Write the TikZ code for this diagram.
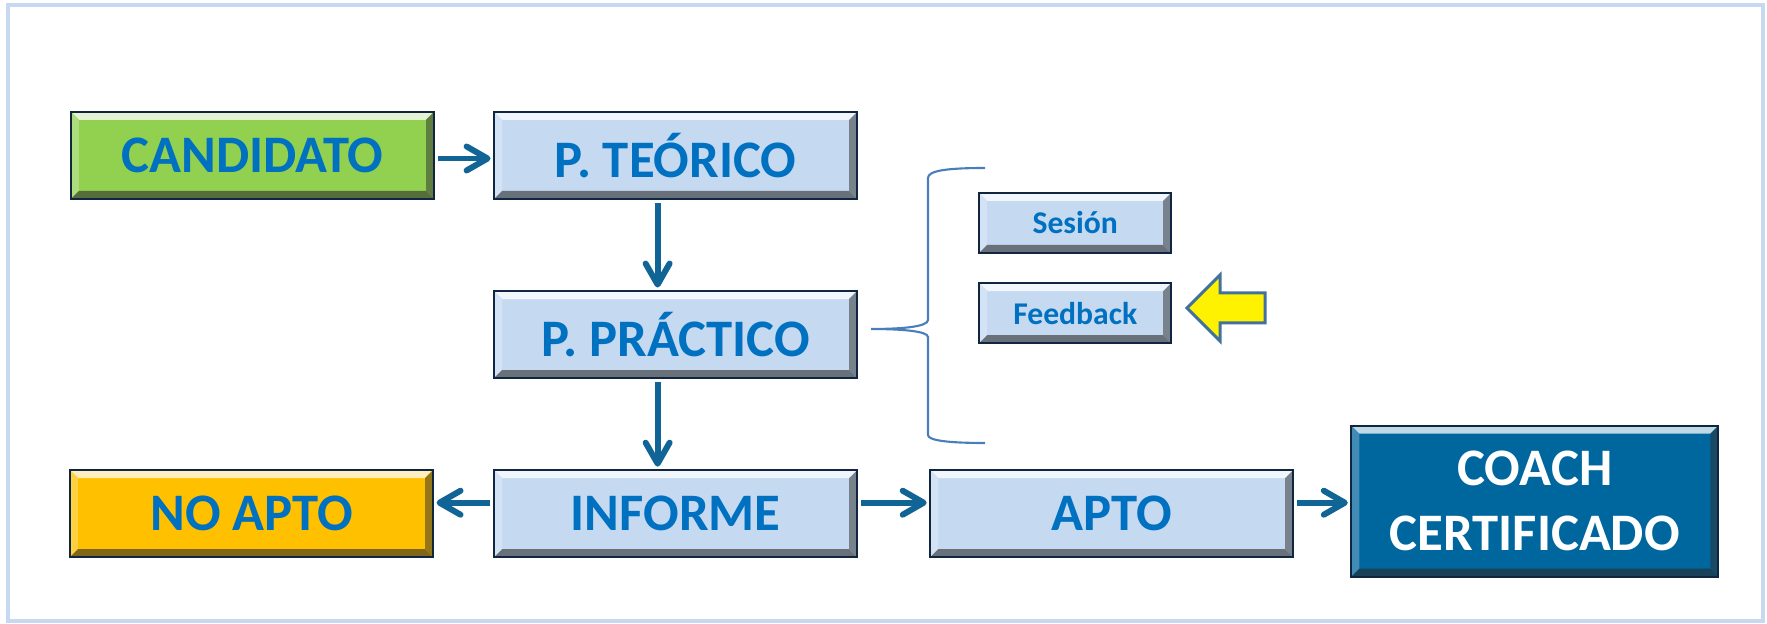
\documentclass[tikz,border=0pt]{standalone}
\usepackage{fontspec}
\setmainfont{Carlito}
\usetikzlibrary{arrows.meta,positioning}
\definecolor{mypanel}{RGB}{198,217,241}
\definecolor{mylight}{RGB}{197,217,241}
\definecolor{mygreen}{RGB}{146,208,80}
\definecolor{mygold}{RGB}{255,192,0}
\definecolor{mydark}{RGB}{0,102,158}
\definecolor{mytext}{RGB}{0,112,192}
\definecolor{myline}{RGB}{16,100,150}
\definecolor{myedge}{RGB}{16,37,63}
\definecolor{mybrace}{RGB}{74,126,187}
\definecolor{myarrow}{RGB}{65,113,156}
\tikzset{
  bevel/.style={path picture={
    \coordinate (bnw) at (path picture bounding box.north west);
    \coordinate (bne) at (path picture bounding box.north east);
    \coordinate (bsw) at (path picture bounding box.south west);
    \coordinate (bse) at (path picture bounding box.south east);
    \fill[#1!25!white] (bnw) -- (bne) -- ([shift={(-0.8mm,-0.8mm)}]bne) -- ([shift={(0.8mm,-0.8mm)}]bnw) -- cycle;
    \fill[#1!75!white] (bnw) -- ([shift={(0.8mm,-0.8mm)}]bnw) -- ([shift={(0.8mm,0.8mm)}]bsw) -- (bsw) -- cycle;
    \fill[#1!60!black!80!gray] (bne) -- ([shift={(-0.8mm,-0.8mm)}]bne) -- ([shift={(-0.8mm,0.8mm)}]bse) -- (bse) -- cycle;
    \fill[#1!50!black!80!gray] (bsw) -- ([shift={(0.8mm,0.8mm)}]bsw) -- ([shift={(-0.8mm,0.8mm)}]bse) -- (bse) -- cycle;
  }},
  frame/.style={rectangle, draw=myedge, line width=0.6pt, fill=#1, bevel=#1, minimum width=36.3mm, minimum height=8.7mm, inner sep=0pt, text=mytext, font=\fontsize{15}{18.5}\selectfont\bfseries, align=center},
  frame/.default=mylight,
  small/.style={frame=mylight, minimum width=19.2mm, minimum height=6.0mm, font=\fontsize{9}{11}\selectfont\bfseries},
  link/.style={draw=myline, line width=1.7pt, -{Straight Barb[length=2.1mm,width=2.4mm,round]}, shorten >=0.25mm, shorten <=0.3mm},
  panel/.style={draw=mypanel, line width=0.4mm},
  brace/.style={draw=mybrace, line width=0.6pt},
  hint/.style={draw=myarrow, fill=yellow, line width=0.85pt, line join=miter}
}

\begin{document}
\begin{tikzpicture}[x=1mm,y=1mm]

\useasboundingbox (0,0) rectangle (176.7,62.4);
\draw [panel] (0.8,0.3) rectangle (176.3,61.9);

% boxes
\node [frame=mygreen] (candidato) at (25.25,46.85) {CANDIDATO};
\node [frame, right=5.8mm of candidato] (teorico) {P. TEÓRICO};
\node [frame, below=9.0mm of teorico] (practico) {P. PRÁCTICO};
\node [frame, below=9.0mm of practico] (informe) {INFORME};
\node [frame=mygold, left=5.9mm of informe] (noapto) {NO APTO};
\node [frame, right=7.1mm of informe] (apto) {APTO};
\node [frame=mydark, text=white, minimum width=36.7mm, minimum height=15.1mm, right=5.6mm of apto, yshift=1.25mm] (coach) 
{COACH\\CERTIFICADO};

\node [small, right=12.0mm of practico, yshift=2.15mm] (feedback) {Feedback};
\node [small, above=2.8mm of feedback] (sesion) {Sesión};

% arrows
\draw [link] ([yshift=-0.3mm]candidato.east) -- ([yshift=-0.3mm]teorico.west);
\draw [link] ([xshift=-1.8mm]teorico.south) -- ([xshift=-1.8mm]practico.north);
\draw [link] ([xshift=-1.8mm]practico.south) -- ([xshift=-1.8mm]informe.north);
\draw [link] ([yshift=1.1mm]informe.west) -- ([yshift=1.1mm]noapto.east);
\draw [link] ([yshift=1.1mm]informe.east) -- ([yshift=1.1mm]apto.west);
\draw [link] ([yshift=1.1mm]apto.east) -- ([yshift=-0.15mm]coach.west);

% brace
\draw [brace] (98.5,45.6) .. controls (94.5,45.6) and (92.8,45.3) .. (92.8,44.6) -- (92.8,30.4)
  .. controls (92.8,29.7) and (90,29.5) .. (87.1,29.5) .. controls (90,29.5) and (92.8,29.3) .. (92.8,28.7)
  -- (92.8,18.9) .. controls (92.8,18.4) and (94.5,18.1) .. (98.5,18.1);

% pointer
\draw [hint] (118.7,31.6) -- (122.0,34.9) -- (122.0,33.1) -- (126.5,33.1) -- (126.5,30.1) -- (122.0,30.1) -- (122.0,28.3) -- cycle;

\end{tikzpicture}
\end{document}
